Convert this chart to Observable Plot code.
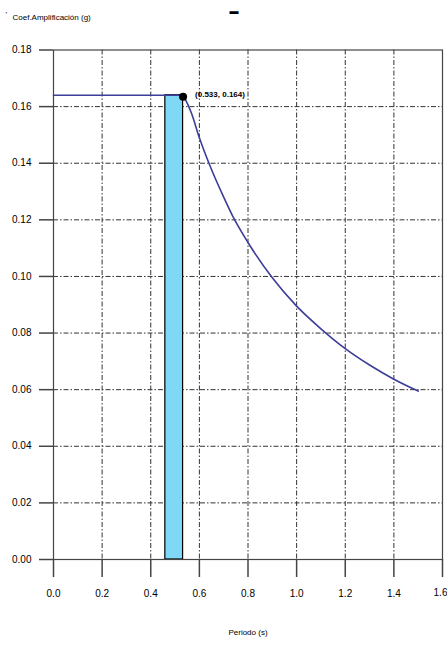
<!DOCTYPE html>
<html>
<head>
<meta charset="utf-8">
<script src="https://cdn.jsdelivr.net/npm/d3@7"></script>
<script src="https://cdn.jsdelivr.net/npm/@observablehq/plot@0.6"></script>
<style>
  html, body { margin: 0; padding: 0; background: #fff; }
  svg { display: block; }
</style>
</head>
<body>
<div id="chart"></div>
<script>
// Spectrum curve (period in s, amplification coefficient in g)
const periods = [0, 0.2, 0.4, 0.515, 0.533, 0.566, 0.60, 0.644, 0.70, 0.736, 0.80, 0.90, 1.0, 1.1, 1.2, 1.3, 1.4, 1.5];
const coefs   = [0.164, 0.164, 0.164, 0.164, 0.1635, 0.158, 0.149, 0.139, 0.128, 0.1215, 0.112, 0.0995, 0.0895, 0.0815, 0.0745, 0.0687, 0.0637, 0.0595];

// Highlighted band
const bandStart = [0.46];
const bandEnd = [0.533];
const bandTop = [0.164];

// Marked point
const pointT = [0.533];
const pointSa = [0.1635];
const pointLabels = ["(0.533, 0.164)"];

// Ticks
const xTicks = [0, 0.2, 0.4, 0.6, 0.8, 1.0, 1.2, 1.4];
const xTickLast = [1.6];
const yTicks = [0, 0.02, 0.04, 0.06, 0.08, 0.10, 0.12, 0.14, 0.16, 0.18];
const xGrid = [0.2, 0.4, 0.6, 0.8, 1.0, 1.2, 1.4];
const yGrid = [0.02, 0.04, 0.06, 0.08, 0.10, 0.12, 0.14, 0.16];

const xLabel = "Periodo (s)";
const yLabel = "Coef.Amplificación (g)";

const curve = periods.map((t, i) => ({t, sa: coefs[i]}));
const band = bandStart.map((s, i) => ({x1: s, x2: bandEnd[i], y: bandTop[i]}));
const pts = pointT.map((t, i) => ({t, sa: pointSa[i], label: pointLabels[i]}));

const font = "'Liberation Sans Narrow', 'Arial Narrow', 'Liberation Sans', Arial, sans-serif";
const dash = "5,2,1.5,2";
const xAxisOpts = {tickSize: 18, tickPadding: 12, tickFormat: d3.format(".1f"), label: null, stroke: "#444", strokeWidth: 1.5, fontSize: 10};

const chart = Plot.plot({
  width: 447,
  height: 648,
  marginLeft: 53,
  marginRight: 5,
  marginTop: 49.5,
  marginBottom: 89,
  style: {fontFamily: font, fontSize: "10px", color: "#000", background: "#fff"},
  x: {domain: [0, 1.6]},
  y: {domain: [0, 0.18]},
  marks: [
    Plot.ruleX(xGrid, {stroke: "#333", strokeWidth: 1, strokeDasharray: dash}),
    Plot.ruleY(yGrid, {stroke: "#333", strokeWidth: 1, strokeDasharray: dash}),
    Plot.rectY(band, {x1: "x1", x2: "x2", y1: 0, y2: "y", fill: "#7fd8f6", stroke: "#000", strokeWidth: 1.2}),
    Plot.line(curve, {x: "t", y: "sa", stroke: "#3d3d9a", strokeWidth: 1.6, curve: "monotone-x"}),
    Plot.dot(pts, {x: "t", y: "sa", r: 4, fill: "#000", stroke: "none"}),
    Plot.text(pts, {x: "t", y: "sa", text: "label", textAnchor: "start", dx: 12, dy: -2, fontSize: 8, fill: "#000", fontWeight: 600}),
    Plot.frame({stroke: "#444", strokeWidth: 1.2}),
    Plot.axisY(yTicks, {tickSize: 14, tickPadding: 8, tickFormat: d3.format(".2f"), label: null, stroke: "#444", strokeWidth: 1.5, fontSize: 10}),
    Plot.axisX(xTicks, xAxisOpts),
    Plot.axisX(xTickLast, {...xAxisOpts, text: null}),
    Plot.text(xTickLast, {x: d => d, text: d => d3.format(".1f")(d), frameAnchor: "bottom", dy: 29, dx: -2, textAnchor: "middle", lineAnchor: "top", fontSize: 10, fill: "#000"}),
    Plot.text([yLabel], {frameAnchor: "top-left", dx: -41, dy: -36, textAnchor: "start", fontSize: 8, fill: "#000"}),
    Plot.text(["'"], {frameAnchor: "top-left", dx: -48, dy: -39, textAnchor: "start", fontSize: 8, fill: "#000"}),
    Plot.text(["▬"], {frameAnchor: "top", dx: -14, dy: -42, fontSize: 9, fill: "#000"}),
    Plot.text([xLabel], {frameAnchor: "bottom", dx: 0, dy: 75, fontSize: 8, fill: "#000"})
  ]
});
document.getElementById("chart").appendChild(chart);
</script>
</body>
</html>
